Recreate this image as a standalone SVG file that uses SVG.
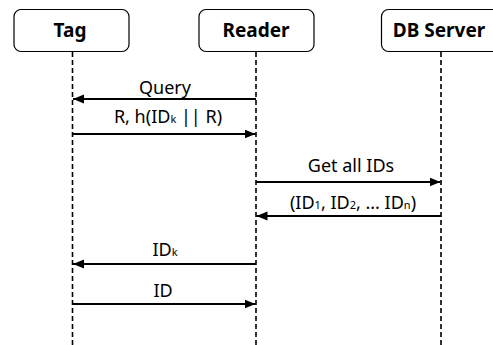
<svg xmlns="http://www.w3.org/2000/svg" width="493" height="345" viewBox="0 0 493 345">
<style>
.box{fill:#fff;stroke:#000;stroke-width:1.2}
.life{stroke:#000;stroke-width:1.6;stroke-dasharray:5,3;fill:none}
.msg{stroke:#000;stroke-width:1.8;fill:none}
.hd{font-family:"Noto Sans","Open Sans",sans-serif;font-weight:bold;font-size:19px;text-anchor:middle}
.lb{font-family:"Noto Sans","Open Sans",sans-serif;font-size:18px;text-anchor:middle}
.sub{font-size:11px}
</style>
<defs>
<marker id="ah" viewBox="0 0 10 10" refX="10" refY="5" markerWidth="11" markerHeight="11" markerUnits="userSpaceOnUse" orient="auto">
<path d="M0,1 L10,5 L0,9 Z" fill="#000"/>
</marker>
</defs>
<g id="lifelines">
<line class="life" x1="72.5" y1="52" x2="72.5" y2="345"/>
<line class="life" x1="256" y1="52" x2="256" y2="345"/>
<line class="life" x1="441" y1="52" x2="441" y2="345"/>
</g>
<g id="tag">
<rect class="box" x="14" y="9.5" width="115" height="42" rx="7"/>
<text class="hd" x="70" y="37">Tag</text>
</g>
<g id="reader">
<rect class="box" x="199" y="9.5" width="115" height="42" rx="7"/>
<text class="hd" x="256" y="37">Reader</text>
</g>
<g id="dbserver">
<rect class="box" x="381.5" y="9.5" width="118" height="42" rx="7"/>
<text class="hd" x="439" y="37">DB Server</text>
</g>
<g id="connectors">
<line class="msg" x1="256" y1="99" x2="73" y2="99" marker-end="url(#ah)"/>
<line class="msg" x1="72.5" y1="134" x2="255.5" y2="134" marker-end="url(#ah)"/>
<line class="msg" x1="256" y1="182" x2="440.5" y2="182" marker-end="url(#ah)"/>
<line class="msg" x1="441" y1="216" x2="256.5" y2="216" marker-end="url(#ah)"/>
<line class="msg" x1="256" y1="264" x2="73" y2="264" marker-end="url(#ah)"/>
<line class="msg" x1="72.5" y1="304" x2="255.5" y2="304" marker-end="url(#ah)"/>
</g>
<g id="labels">
<text class="lb" x="165" y="94">Query</text>
<text class="lb" x="168" y="123">R, h(ID<tspan class="sub">k</tspan> || R)</text>
<text class="lb" x="351" y="172">Get all IDs</text>
<text class="lb" x="353" y="209">(ID<tspan class="sub">1</tspan>, ID<tspan class="sub">2</tspan>, ... ID<tspan class="sub">n</tspan>)</text>
<text class="lb" x="165" y="256">ID<tspan class="sub">k</tspan></text>
<text class="lb" x="163" y="297">ID</text>
</g>
</svg>
